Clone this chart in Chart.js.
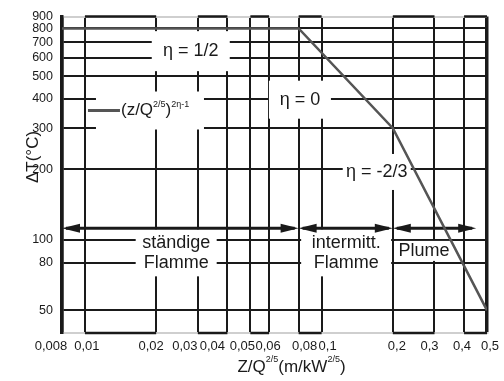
<!DOCTYPE html>
<html>
<head>
<meta charset="utf-8">
<script src="https://cdn.jsdelivr.net/npm/chart.js@4"></script>
<style>
  body { margin: 0; background: #fff; }
  #wrap { width: 504px; height: 381px; }
</style>
</head>
<body>
<div id="wrap"><canvas id="plot"></canvas></div>
<script>
// tick values of both log axes
const xTicks = [0.008, 0.01, 0.02, 0.03, 0.04, 0.05, 0.06, 0.08, 0.1, 0.2, 0.3, 0.4, 0.5]
const yTicks = [50, 80, 100, 200, 300, 400, 500, 600, 700, 800, 900]

// the temperature curve
const zValues = [0.008, 0.08, 0.2, 0.5]
const deltaT = [800, 800, 300, 50]

// flame regions (arrows) and the level they sit at
const regionNames = [['ständige', 'Flamme'], ['intermitt.', 'Flamme'], ['Plume']]
const regionBounds = [[0.008, 0.08], [0.08, 0.2], [0.2, 0.45]]
const arrowLevel = 112

// the thick pieces on the top and bottom frame
const edgePairs = [[0.01, 0.02], [0.03, 0.04], [0.05, 0.06], [0.08, 0.1], [0.2, 0.3], [0.4, 0.5]]

const FONT = '"Liberation Sans", Arial, sans-serif'
const INK = '#1a1a1a'

// x labels are nudged sideways in the original so they do not collide (px)
const xLabelShift = [-11, 2, -5, -13, -15, -8, -1, 6, 6, 4, -5, -2, 3]

// label anchors (data coords) + white box size in px
const notes = [
  { text: ['η = 1/2'], x: 0.028, y: 640, w: 78, h: 40 },
  { text: ['η = 0'], x: 0.081, y: 397, w: 62, h: 38 },
  { text: ['η = -2/3'], x: 0.171, y: 195, w: 68, h: 36 },
  { text: regionNames[0], x: 0.0243, y: 88, w: 81, h: 47 },
  { text: regionNames[1], x: 0.127, y: 88, w: 90, h: 47 },
  { text: regionNames[2], x: 0.271, y: 89.7, w: 58, h: 20 }
]

function drawPieces(ctx, pieces, x, y) {
  // pieces: [text, size, rise]
  let cx = x
  pieces.forEach(([t, size, rise]) => {
    ctx.font = size + 'px ' + FONT
    ctx.fillText(t, cx, y + rise)
    cx += ctx.measureText(t).width
  })
  return cx - x
}

function piecesWidth(ctx, pieces) {
  let w = 0
  pieces.forEach(([t, size]) => {
    ctx.font = size + 'px ' + FONT
    w += ctx.measureText(t).width
  })
  return w
}

function arrowHead(ctx, tipX, y, dir) {
  ctx.beginPath()
  ctx.moveTo(tipX, y)
  ctx.lineTo(tipX + dir * 18, y - 4.5)
  ctx.lineTo(tipX + dir * 18, y + 4.5)
  ctx.closePath()
  ctx.fill()
}

const overlay = {
  id: 'overlay',
  beforeDatasetsDraw(chart) {
    const { ctx, chartArea: a, scales: { x, y } } = chart
    ctx.save()

    // frame pieces
    ctx.strokeStyle = INK
    ctx.lineWidth = 2.5
    edgePairs.forEach(([p, q]) => {
      [a.top, a.bottom].forEach(py => {
        ctx.beginPath()
        ctx.moveTo(x.getPixelForValue(p), py)
        ctx.lineTo(x.getPixelForValue(q), py)
        ctx.stroke()
      })
    })

    // white boxes behind the labels
    ctx.fillStyle = '#fff'
    notes.forEach(n => {
      const cx = x.getPixelForValue(n.x), cy = y.getPixelForValue(n.y)
      ctx.fillRect(cx - n.w / 2, cy - n.h / 2, n.w, n.h)
    })
    // box for the power-law label
    const lx = x.getPixelForValue(0.0103), ly = y.getPixelForValue(357)
    ctx.fillRect(lx + 8, ly - 19, 108, 38)

    // arrows
    ctx.fillStyle = INK
    ctx.strokeStyle = INK
    ctx.lineWidth = 3
    const ay = y.getPixelForValue(arrowLevel)
    regionBounds.forEach(([p, q]) => {
      const x1 = x.getPixelForValue(p), x2 = x.getPixelForValue(q)
      ctx.beginPath()
      ctx.moveTo(x1 + 4, ay)
      ctx.lineTo(x2 - 4, ay)
      ctx.stroke()
      arrowHead(ctx, x1, ay, 1)
      arrowHead(ctx, x2, ay, -1)
    })

    // label texts
    ctx.fillStyle = INK
    ctx.textAlign = 'center'
    ctx.textBaseline = 'middle'
    ctx.font = '18px ' + FONT
    notes.forEach(n => {
      const cx = x.getPixelForValue(n.x), cy = y.getPixelForValue(n.y)
      const lh = 20
      n.text.forEach((t, i) => {
        ctx.fillText(t, cx, cy + (i - (n.text.length - 1) / 2) * lh)
      })
    })

    // leader line + (z/Q^2/5)^(2η-1)
    ctx.strokeStyle = '#555'
    ctx.lineWidth = 3
    ctx.beginPath()
    ctx.moveTo(lx, ly)
    ctx.lineTo(lx + 32, ly)
    ctx.stroke()
    ctx.textAlign = 'left'
    drawPieces(ctx, [['(z/Q', 17, 0], ['2/5', 9, -6], [')', 17, 0], ['2η-1', 9, -6]], lx + 33, ly)

    ctx.restore()
  },
  afterDraw(chart) {
    const { ctx, chartArea: a, scales: { x } } = chart
    ctx.save()
    ctx.fillStyle = INK
    ctx.textBaseline = 'middle'

    // x tick labels (comma decimals, nudged like the original)
    ctx.textAlign = 'center'
    ctx.font = '13px ' + FONT
    xTicks.forEach((v, i) => {
      ctx.fillText(String(v).replace('.', ','), x.getPixelForValue(v) + xLabelShift[i], a.bottom + 13)
    })

    // x title
    ctx.textAlign = 'left'
    const xt = [['Z/Q', 17, 0], ['2/5', 9, -7], ['(m/kW', 17, 0], ['2/5', 9, -7], [')', 17, 0]]
    const w = piecesWidth(ctx, xt)
    drawPieces(ctx, xt, (a.left + a.right) / 2 + 17 - w / 2, a.bottom + 34)

    // y title
    ctx.translate(a.left - 29, 157)
    ctx.rotate(-Math.PI / 2)
    ctx.textAlign = 'center'
    ctx.font = '17px ' + FONT
    ctx.fillText('ΔT(°C)', 0, 0)
    ctx.restore()
  }
}

new Chart(document.getElementById('plot'), {
  type: 'line',
  data: {
    datasets: [{
      data: zValues.map((z, i) => ({ x: z, y: deltaT[i] })),
      borderColor: '#555',
      borderWidth: 2.5,
      pointRadius: 0,
      tension: 0
    }]
  },
  options: {
    responsive: true,
    maintainAspectRatio: false,
    animation: false,
    layout: { padding: { top: 13, right: 17, left: 0, bottom: 0 } },
    plugins: { legend: { display: false }, tooltip: { enabled: false } },
    scales: {
      x: {
        type: 'logarithmic',
        min: 0.008,
        max: 0.5,
        afterBuildTicks: s => { s.ticks = xTicks.map(v => ({ value: v })) },
        afterFit: s => { s.height = 48 },
        ticks: { display: false, autoSkip: false, maxRotation: 0 },
        grid: {
          drawTicks: false,
          color: INK,
          lineWidth: c => (c.tick && (c.tick.value === 0.008 || c.tick.value === 0.5)) ? 3.5 : 2
        },
        border: { display: true, color: '#cfcfcf', width: 2 }
      },
      y: {
        type: 'logarithmic',
        min: 40,
        max: 900,
        afterBuildTicks: s => { s.ticks = yTicks.map(v => ({ value: v })) },
        afterFit: s => { s.width = 62 },
        ticks: {
          autoSkip: false,
          padding: 9,
          color: INK,
          font: { family: FONT, size: 12.5 },
          callback: v => String(v)
        },
        grid: {
          drawTicks: false,
          color: c => (c.tick && c.tick.value === 900) ? '#cfcfcf' : INK,
          lineWidth: 2
        },
        border: { display: true, color: INK, width: 3.5 }
      }
    }
  },
  plugins: [overlay]
})
</script>
</body>
</html>
